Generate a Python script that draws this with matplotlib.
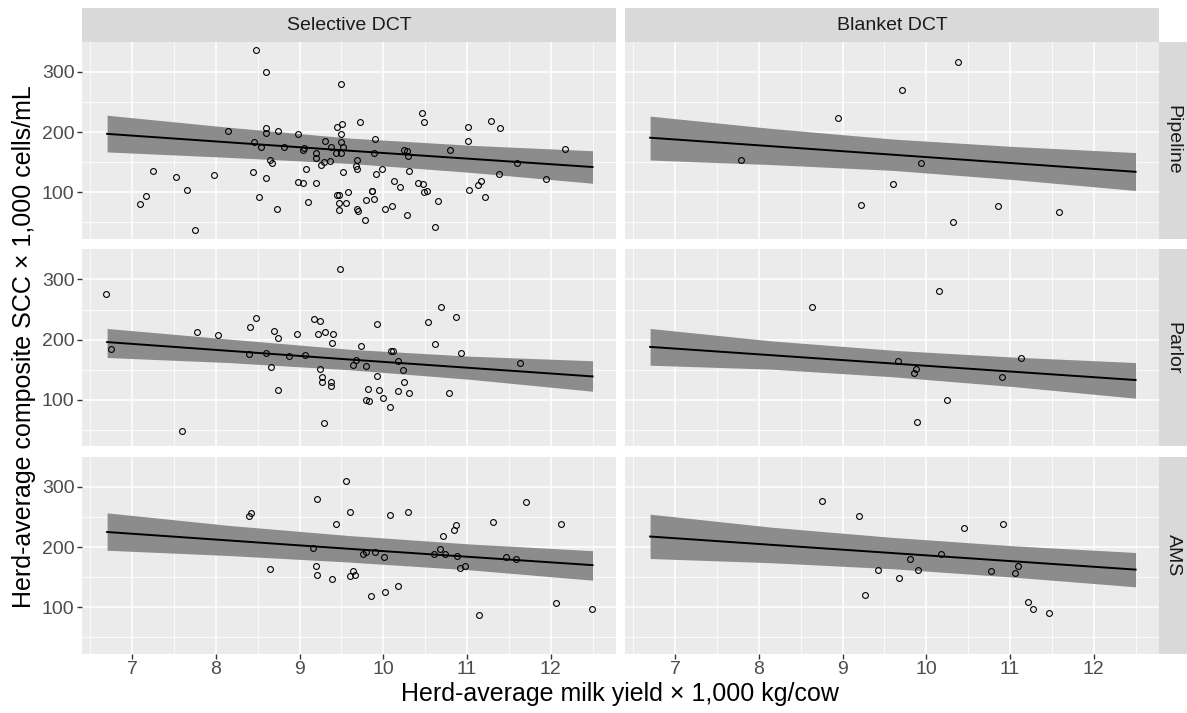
import matplotlib
matplotlib.use("Agg")
import matplotlib.pyplot as plt
import numpy as np

plt.rcParams['font.family'] = ['Liberation Sans', 'DejaVu Sans']

# ---------------------------------------------------------------------------
# data
# ---------------------------------------------------------------------------
col_labels = ['Selective DCT', 'Blanket DCT']
row_labels = ['Pipeline', 'Parlor', 'AMS']

sel_pipe_x = [8.48, 8.60, 9.49, 8.15, 8.45, 8.60, 8.60, 8.74, 8.54, 8.81, 8.65, 8.67,
              8.98, 9.05, 9.04, 8.44, 8.60, 8.52, 8.73, 8.98, 9.04, 9.19, 9.08, 9.10,
              9.19, 9.20, 9.25, 9.29, 9.30, 9.36, 9.38, 9.45, 9.51, 9.50, 9.49, 9.52,
              9.44, 9.49, 9.52, 9.68, 9.67, 9.68, 9.72, 9.58, 9.45, 9.47, 9.47, 9.47,
              9.56, 9.68, 9.70, 9.78, 9.79, 9.86, 9.86, 9.89, 9.89, 9.90, 9.91, 9.99,
              10.02, 10.10, 10.13, 10.20, 10.25, 10.28, 10.29, 10.31, 10.28, 10.42, 10.46,
              10.49, 10.48, 10.49, 10.52, 10.62, 10.65, 10.80, 11.01, 11.01, 11.02, 11.13,
              11.17, 11.21, 11.29, 11.40, 11.38, 11.60, 11.94, 12.17, 7.09, 7.17, 7.25,
              7.52, 7.66, 7.75, 7.98]
sel_pipe_y = [336, 299, 280, 201, 184, 207, 199, 201, 175, 175, 154, 148,
              197, 173, 171, 134, 123, 93, 73, 117, 115, 115, 138, 84,
              165, 157, 145, 150, 185, 152, 175, 209, 214, 196, 183, 175,
              165, 166, 134, 154, 144, 138, 216, 100, 95, 95, 82, 70,
              82, 73, 69, 54, 88, 103, 103, 89, 166, 188, 130, 139,
              73, 77, 118, 108, 170, 168, 161, 136, 62, 116, 231,
              216, 113, 101, 102, 43, 86, 171, 209, 186, 104, 112,
              118, 92, 219, 207, 130, 148, 122, 172, 81, 94, 135,
              126, 104, 37, 128]

bla_pipe_x = [10.38, 9.71, 8.95, 7.79, 9.94, 9.60, 9.22, 10.32, 10.86, 11.59]
bla_pipe_y = [316, 269, 224, 154, 148, 114, 79, 50, 77, 67]

sel_parl_x = [6.69, 6.75, 7.60, 7.77, 8.03, 8.39, 8.41, 8.48, 8.60, 8.66, 8.69, 8.74,
              8.74, 8.87, 8.97, 9.06, 9.17, 9.24, 9.22, 9.30, 9.40, 9.39, 9.24, 9.27,
              9.27, 9.37, 9.37, 9.29, 9.48, 9.73, 9.64, 9.67, 9.79, 9.93, 9.93, 9.82,
              9.95, 9.79, 9.83, 10.00, 10.08, 10.09, 10.12, 10.18, 10.24, 10.25, 10.17,
              10.31, 10.53, 10.69, 10.62, 10.78, 10.87, 10.93, 11.63]
sel_parl_y = [276, 184, 48, 212, 207, 177, 221, 236, 178, 154, 215, 202,
              117, 173, 210, 174, 235, 231, 209, 212, 209, 195, 152, 138,
              130, 130, 123, 61, 318, 189, 158, 166, 157, 226, 139, 118,
              117, 100, 98, 104, 88, 182, 181, 165, 150, 130, 114,
              111, 229, 255, 192, 112, 237, 178, 161]

bla_parl_x = [10.15, 8.63, 9.66, 9.88, 9.85, 11.13, 10.90, 10.25, 9.89]
bla_parl_y = [281, 255, 164, 152, 144, 169, 138, 100, 64]

sel_ams_x = [8.40, 8.42, 8.65, 9.21, 9.16, 9.19, 9.21, 9.39, 9.44, 9.55, 9.60, 9.64,
             9.60, 9.66, 9.76, 9.79, 9.90, 9.85, 10.01, 10.02, 10.08, 10.18, 10.29,
             10.60, 10.68, 10.71, 10.74, 10.84, 10.87, 10.88, 10.92, 10.97, 11.14,
             11.31, 11.46, 11.59, 11.70, 12.06, 12.12, 12.49]
sel_ams_y = [251, 256, 164, 279, 198, 169, 153, 147, 239, 310, 258, 161,
             152, 153, 188, 191, 192, 118, 183, 126, 253, 135, 258,
             188, 196, 219, 188, 229, 236, 185, 166, 168, 88,
             242, 184, 180, 274, 107, 239, 98]

bla_ams_x = [8.75, 9.19, 9.27, 9.42, 9.67, 9.80, 9.90, 10.18, 10.45, 10.77, 10.92,
             11.06, 11.10, 11.21, 11.27, 11.46]
bla_ams_y = [277, 251, 121, 162, 148, 181, 162, 189, 231, 161, 238, 157, 168, 108, 97, 91]

# fitted line with confidence band, read at a few positions
fit_x = [6.7, 8.15, 9.6, 11.05, 12.5]
fit_y = {
    (0, 0): [197, 183, 169, 155.5, 142], (0, 1): [190.6, 176.5, 162.4, 148.2, 134],
    (1, 0): [196, 181.5, 167, 153, 139], (1, 1): [188, 174.2, 160.4, 146.7, 133],
    (2, 0): [225, 211, 197, 183.5, 170], (2, 1): [217.5, 203.7, 190, 176.3, 162.6],
}
fit_lo = {
    (0, 0): [167, 158, 148, 133, 115], (0, 1): [153.6, 146, 136.4, 121, 103],
    (1, 0): [170.4, 162, 150, 134, 114.4], (1, 1): [157.6, 151, 138.4, 122, 102.8],
    (2, 0): [194.7, 186, 175, 162, 145], (2, 1): [181, 174, 164, 150, 134],
}
fit_hi = {
    (0, 0): [228, 208, 190, 178, 169], (0, 1): [226.5, 206, 188.4, 176, 166],
    (1, 0): [218.6, 201, 184, 172.5, 165], (1, 1): [218.6, 198, 182.4, 171, 162],
    (2, 0): [256.8, 236, 219, 205, 194], (2, 1): [254.6, 233, 216, 202, 191],
}

points = {
    (0, 0): (sel_pipe_x, sel_pipe_y), (0, 1): (bla_pipe_x, bla_pipe_y),
    (1, 0): (sel_parl_x, sel_parl_y), (1, 1): (bla_parl_x, bla_parl_y),
    (2, 0): (sel_ams_x, sel_ams_y), (2, 1): (bla_ams_x, bla_ams_y),
}

# ---------------------------------------------------------------------------
# layout (pixel geometry of the reference, 1187 x 713)
# ---------------------------------------------------------------------------
W, H = 1187, 713
fig = plt.figure(figsize=(W / 100, H / 100), dpi=100)

col_left = [82, 625]
col_w = 534
row_top = [41.7, 249.3, 456.7]
row_h = 197

panel_bg = '#EBEBEB'
strip_bg = '#D9D9D9'

for r in range(3):
    for c in range(2):
        x0 = col_left[c] / W
        y0 = 1 - (row_top[r] + row_h) / H
        ax = fig.add_axes([x0, y0, col_w / W, row_h / H])
        ax.set_facecolor(panel_bg)
        for s in ax.spines.values():
            s.set_visible(False)
        ax.set_xlim(6.40, 12.78)
        ax.set_ylim(23, 350)
        ax.set_xticks([7, 8, 9, 10, 11, 12])
        ax.set_xticks(np.arange(6.5, 13, 1.0), minor=True)
        ax.set_yticks([100, 200, 300])
        ax.set_yticks([50, 150, 250], minor=True)
        ax.grid(True, which='major', color='white', lw=1.1)
        ax.grid(True, which='minor', color='white', lw=0.55)
        ax.set_axisbelow(True)
        ax.tick_params(which='minor', length=0)
        ax.tick_params(which='major', length=3.5, width=1, color='#333333',
                       labelsize=14, labelcolor='#4D4D4D', pad=2)
        if c == 1:
            ax.tick_params(axis='y', which='major', length=0, labelleft=False)
        if r < 2:
            ax.tick_params(axis='x', which='major', length=0, labelbottom=False)

        ax.fill_between(fit_x, fit_lo[(r, c)], fit_hi[(r, c)],
                        color='#8C8C8C', lw=0, zorder=2)
        ax.plot(fit_x, fit_y[(r, c)], color='black', lw=1.4, zorder=3)
        px, py = points[(r, c)]
        ax.plot(px, py, ls='none', marker='o', ms=4.2, mfc='none',
                mec='black', mew=0.8, zorder=4)

# column strips
for c in range(2):
    sax = fig.add_axes([col_left[c] / W, 1 - 41.7 / H, col_w / W, 33.4 / H])
    sax.set_facecolor(strip_bg)
    sax.set_xticks([])
    sax.set_yticks([])
    for s in sax.spines.values():
        s.set_visible(False)
    sax.text(0.5, 0.5, col_labels[c], ha='center', va='center',
             fontsize=14, color='#1A1A1A', transform=sax.transAxes)

# row strips
for r in range(3):
    sax = fig.add_axes([1159 / W, 1 - (row_top[r] + row_h) / H, 28 / W, row_h / H])
    sax.set_facecolor(strip_bg)
    sax.set_xticks([])
    sax.set_yticks([])
    for s in sax.spines.values():
        s.set_visible(False)
    sax.text(0.5, 0.5, row_labels[r], ha='center', va='center', rotation=-90,
             fontsize=14, color='#1A1A1A', transform=sax.transAxes)

fig.text(620 / W, 1 - 694 / H, 'Herd-average milk yield \u00d7 1,000 kg/cow',
         ha='center', va='center', fontsize=18, color='black')
fig.text(24 / W, 1 - 347 / H, 'Herd-average composite SCC \u00d7 1,000 cells/mL',
         ha='center', va='center', rotation=90, fontsize=18, color='black')

fig.savefig('out.png', dpi=100)
